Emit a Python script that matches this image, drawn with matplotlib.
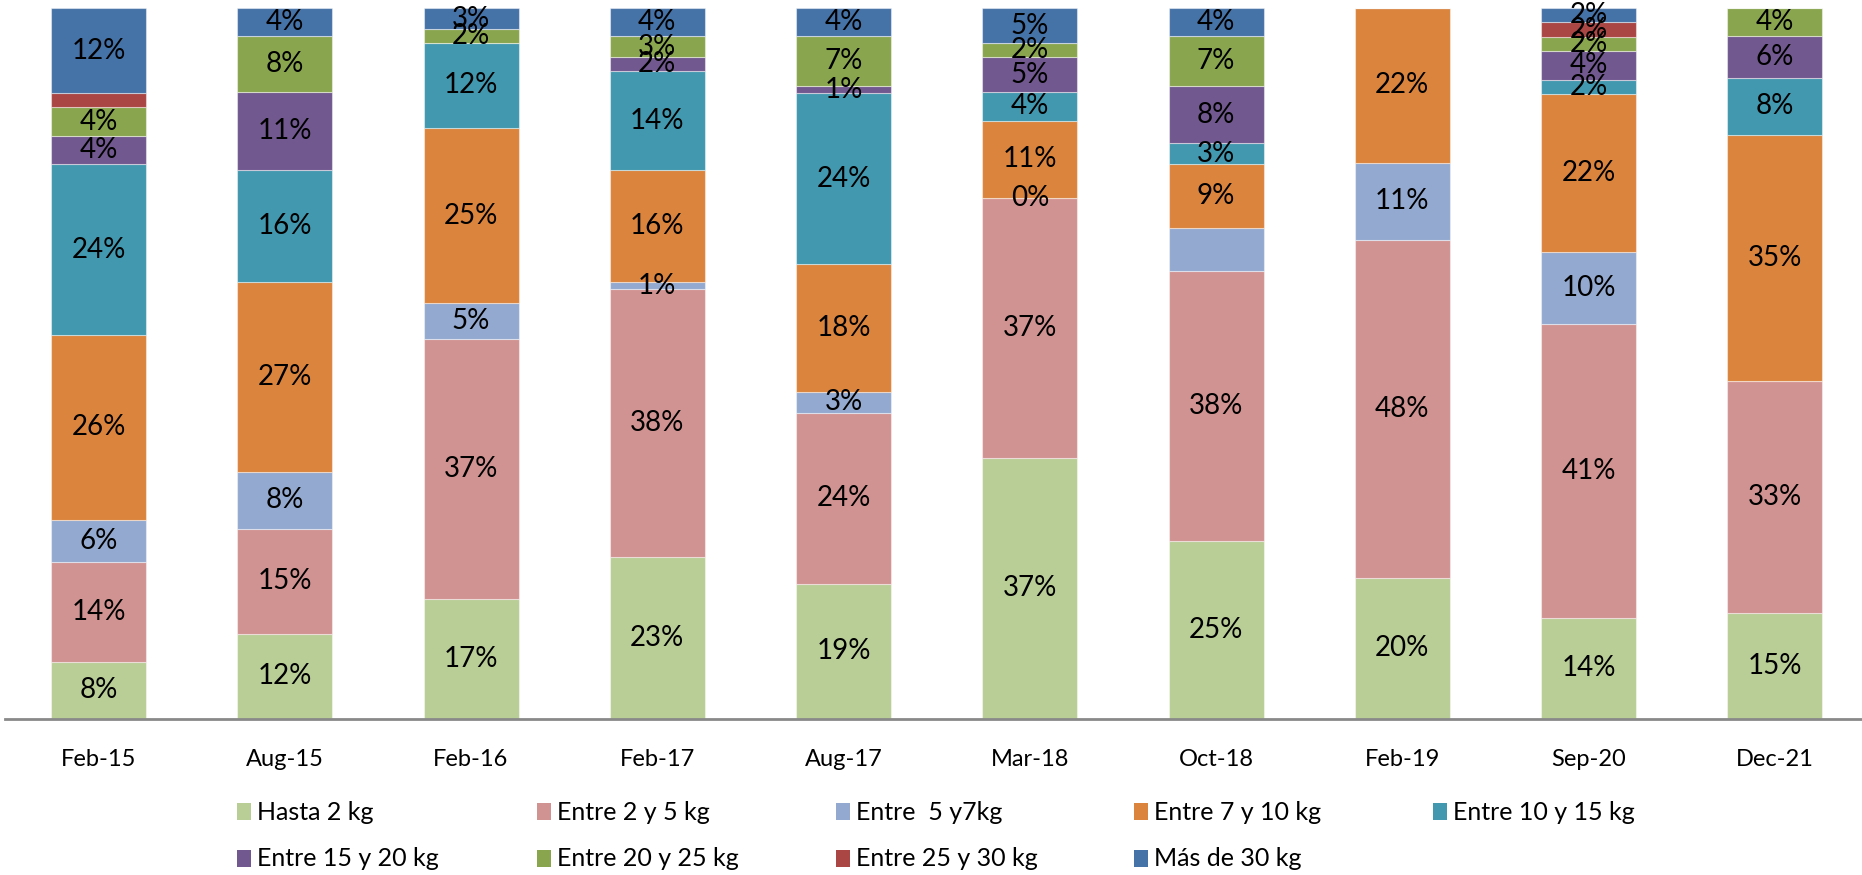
import numpy as np
import matplotlib
matplotlib.use("Agg")
import matplotlib.pyplot as plt
from matplotlib.patches import Rectangle

plt.rcParams["font.family"] = ["Lato", "DejaVu Sans"]

categories = ["Feb-15", "Aug-15", "Feb-16", "Feb-17", "Aug-17",
              "Mar-18", "Oct-18", "Feb-19", "Sep-20", "Dec-21"]

series_names = ["Hasta 2 kg", "Entre 2 y 5 kg", "Entre  5 y7kg", "Entre 7 y 10 kg",
                "Entre 10 y 15 kg", "Entre 15 y 20 kg", "Entre 20 y 25 kg",
                "Entre 25 y 30 kg", "Más de 30 kg"]

nan = np.nan
hasta_2 = [8, 12, 17, 23, 19, 37, 25, 20, 14, 15]
entre_2_5 = [14, 15, 37, 38, 24, 37, 38, 48, 41, 33]
entre_5_7 = [6, 8, 5, 1, 3, 0, 6, 11, 10, nan]
entre_7_10 = [26, 27, 25, 16, 18, 11, 9, 22, 22, 35]
entre_10_15 = [24, 16, 12, 14, 24, 4, 3, nan, 2, 8]
entre_15_20 = [4, 11, nan, 2, 1, 5, 8, nan, 4, 6]
entre_20_25 = [4, 8, 2, 3, 7, 2, 7, nan, 2, 4]
entre_25_30 = [2, nan, nan, nan, nan, nan, nan, nan, 2, nan]
mas_30 = [12, 4, 3, 4, 4, 5, 4, nan, 2, nan]

# segments whose data label is not shown
unlabeled = [("Feb-15", "Entre 25 y 30 kg"), ("Oct-18", "Entre  5 y7kg")]

colors = ["#B9CD96", "#D19392", "#93A9CF", "#DB843D", "#4198AF",
          "#71588F", "#89A54E", "#AA4643", "#4572A7"]

data = np.array([hasta_2, entre_2_5, entre_5_7, entre_7_10, entre_10_15,
                 entre_15_20, entre_20_25, entre_25_30, mas_30], dtype=float)
vals = np.nan_to_num(data)
totals = vals.sum(axis=0)
shares = vals / totals * 100.0

W, H, DPI = 1862, 875, 100
fig = plt.figure(figsize=(W / DPI, H / DPI), dpi=DPI)
ax_left, ax_right = 5.4, 1868.0
ax_top, ax_bot = 8.0, 718.5
ax = fig.add_axes([ax_left / W, 1 - ax_bot / H, (ax_right - ax_left) / W, (ax_bot - ax_top) / H])

x = np.arange(len(categories))
bottom = np.zeros(len(categories))
for i, name in enumerate(series_names):
    ax.bar(x, shares[i], 0.51, bottom=bottom, color=colors[i],
           edgecolor=(1, 1, 1, 0.45), linewidth=0.8, label=name, zorder=2)
    for j, cat in enumerate(categories):
        if np.isnan(data[i, j]) or (cat, name) in unlabeled:
            continue
        ax.text(x[j], bottom[j] + shares[i, j] / 2, f"{data[i, j]:.0f}%",
                ha="center", va="center", fontsize=20, color="black", zorder=3)
    bottom += shares[i]

ax.set_xlim(-0.5, 9.5)
ax.set_ylim(0, 100)
ax.set_xticks(x)
ax.set_xticklabels(categories, fontsize=17)
ax.tick_params(axis="x", length=0, pad=22)
ax.set_yticks([])
for side in ["left", "right", "top"]:
    ax.spines[side].set_visible(False)
ax.spines["bottom"].set_color("#898989")
ax.spines["bottom"].set_linewidth(2.0)

# legend: two rows, evenly spaced entries
leg_x = [237, 537, 836, 1134, 1433]
leg_y = [812, 859]
for k, name in enumerate(series_names):
    r, c = divmod(k, 5)
    px, py = leg_x[c], leg_y[r]
    fig.patches.append(Rectangle((px / W, 1 - (py + 8) / H), 14 / W, 17 / H,
                                 transform=fig.transFigure, facecolor=colors[k],
                                 edgecolor="none"))
    fig.text((px + 20) / W, 1 - py / H, name, ha="left", va="center", fontsize=18)

fig.savefig("out.png", dpi=DPI)
